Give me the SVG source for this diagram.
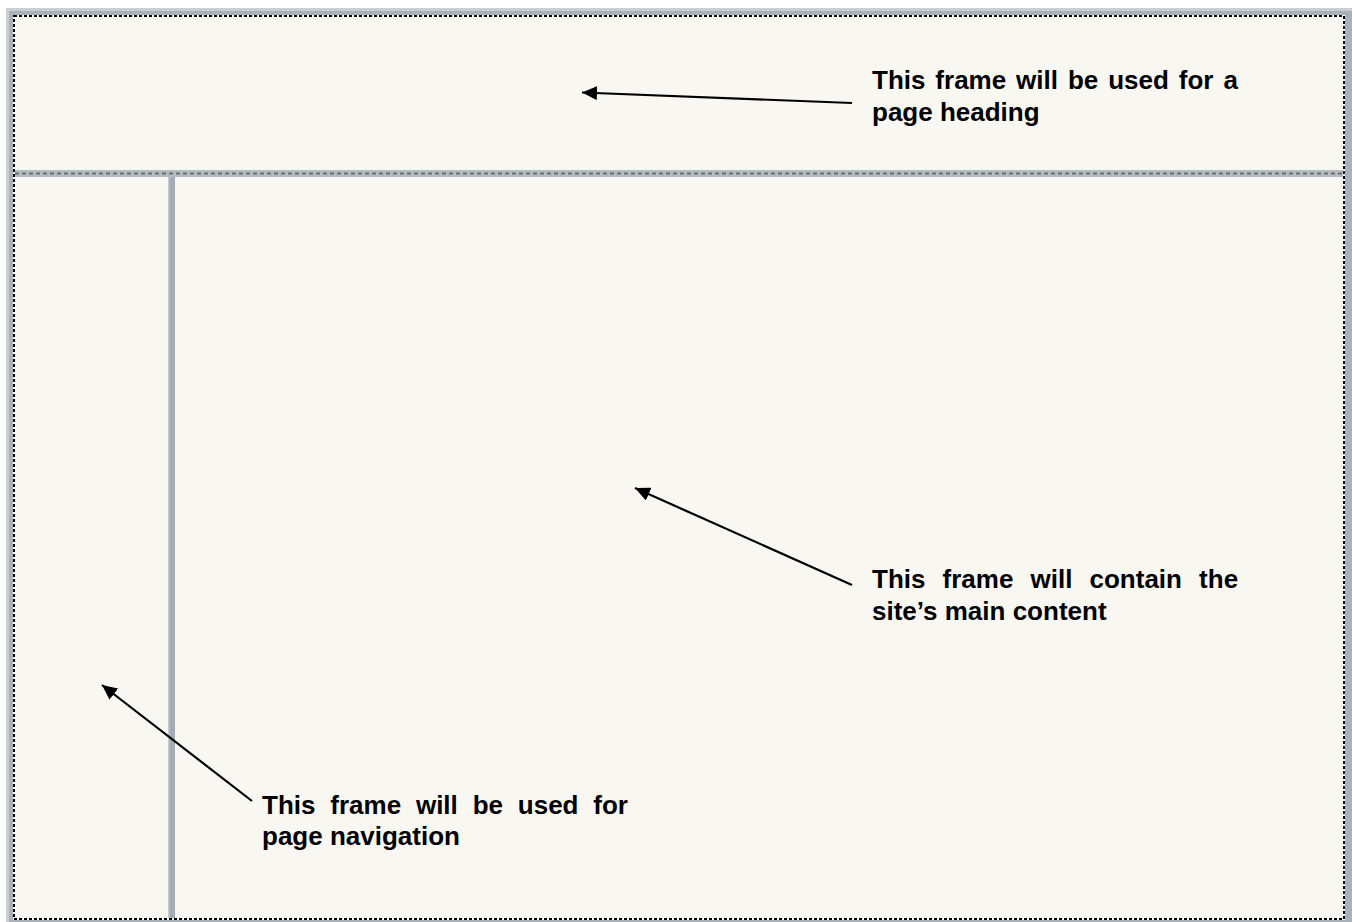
<svg xmlns="http://www.w3.org/2000/svg" width="1352" height="922" viewBox="0 0 1352 922">
  <defs>
    <marker id="arrow" markerWidth="16" markerHeight="14" refX="15" refY="7" orient="auto" markerUnits="userSpaceOnUse">
      <path d="M0,0 L15,7 L0,14 Z" fill="#000"/>
    </marker>
  </defs>
  <style>
    .lbl { font-family: "Liberation Sans", Arial, sans-serif; font-size: 26px; font-weight: bold; fill: #000; }
    .conn { stroke: #000; stroke-width: 2.2; fill: none; }
    .dash { stroke: #000; stroke-width: 2; stroke-dasharray: 3 2; fill: none; }
  </style>
  <rect x="0" y="0" width="1352" height="922" fill="#ffffff"/>
  <g id="outer-frame">
    <rect x="6" y="8" width="1346" height="914" fill="#a9b2bb"/>
    <rect x="6" y="8" width="1346" height="3" fill="#c9ced3"/>
    <rect x="6" y="8" width="3" height="914" fill="#c9ced3"/>
    <rect x="13" y="15" width="1332" height="905" fill="#ffffff"/>
    <rect x="14" y="16" width="1330" height="903" fill="#f8f7f2"/>
    <rect x="14" y="16" width="1330" height="903" class="dash"/>
  </g>
  <g id="heading-frame">
    <rect x="15" y="170" width="1328" height="7" fill="#b3bbc3"/>
    <line x1="15" y1="173.5" x2="1343" y2="173.5" stroke="#6e6e6e" stroke-width="2" stroke-dasharray="4 3"/>
  </g>
  <g id="nav-divider">
    <rect x="168" y="177" width="7" height="741" fill="#a4adb6"/>
    <rect x="168" y="177" width="1.5" height="741" fill="#c4cad0"/>
  </g>
  <g id="connectors">
    <line class="conn" x1="852" y1="103" x2="582" y2="92.5" marker-end="url(#arrow)"/>
    <line class="conn" x1="852" y1="585" x2="635" y2="488" marker-end="url(#arrow)"/>
    <line class="conn" x1="252" y1="801" x2="102" y2="685" marker-end="url(#arrow)"/>
  </g>
  <g id="label-heading">
    <text class="lbl" x="872" y="89" word-spacing="2.7">This frame will be used for a</text>
    <text class="lbl" x="872" y="121">page heading</text>
  </g>
  <g id="label-content">
    <text class="lbl" x="872" y="588" word-spacing="9.9">This frame will contain the</text>
    <text class="lbl" x="872" y="620">site’s main content</text>
  </g>
  <g id="label-nav">
    <text class="lbl" x="262" y="814" word-spacing="7.6">This frame will be used for</text>
    <text class="lbl" x="262" y="845">page navigation</text>
  </g>
</svg>
